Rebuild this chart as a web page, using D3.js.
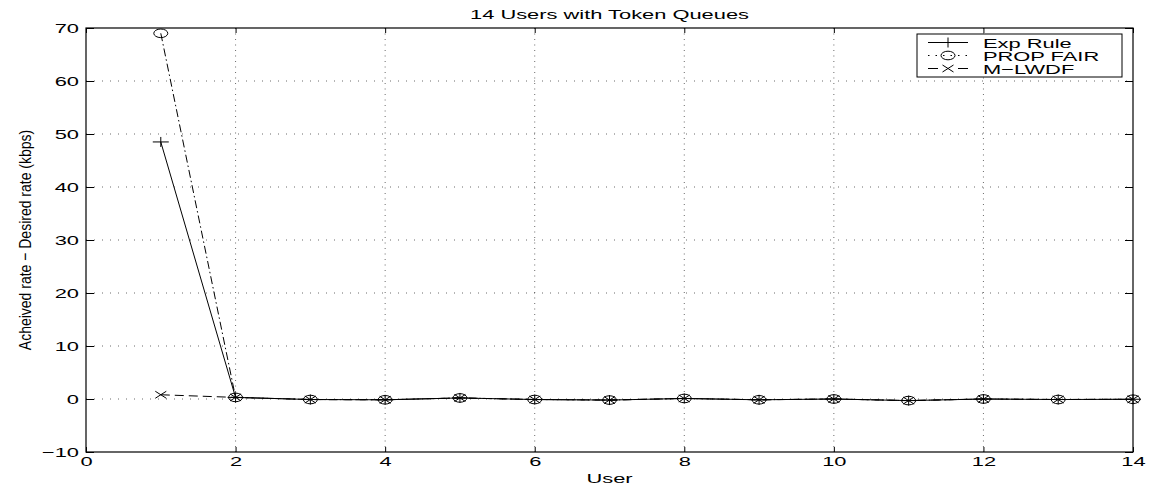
<!DOCTYPE html>
<html>
<head>
<meta charset="utf-8">
<script src="https://cdn.jsdelivr.net/npm/d3@7"></script>
<style>
  body { margin: 0; background: #fff; }
  text { font-family: "Liberation Sans", Arial, sans-serif; fill: #000; }
</style>
</head>
<body>
<div id="viz-wrapper"></div>
<script>
// data
let users = [1, 2, 3, 4, 5, 6, 7, 8, 9, 10, 11, 12, 13, 14];
let expRule  = [48.5, 0.3, -0.1, -0.15, 0.2, -0.1, -0.2, 0.1, -0.15, 0, -0.3, 0, -0.1, -0.05];
let propFair = [69.0, 0.3, -0.1, -0.15, 0.2, -0.1, -0.2, 0.1, -0.15, 0, -0.3, 0, -0.1, -0.05];
let mLwdf    = [0.8, 0.3, -0.1, -0.15, 0.2, -0.1, -0.2, 0.1, -0.15, 0, -0.3, 0, -0.1, -0.05];
let seriesNames = ['Exp Rule', 'PROP FAIR', 'M\u2212LWDF'];
let xTicks = [0, 2, 4, 6, 8, 10, 12, 14];
let yTicks = [-10, 0, 10, 20, 30, 40, 50, 60, 70];
let title = '14 Users with Token Queues';
let xLabel = 'User';
let yLabel = 'Acheived rate \u2212 Desired rate (kbps)';

let width = 1150,
    height = 487;
let margin = {left: 86, right: 17, top: 28, bottom: 35};
let plotW = width - margin.left - margin.right,
    plotH = height - margin.top - margin.bottom;

// the original figure is stretched sideways, text too
let stretch = 1.62;
let fontSize = 13.5;

let xScale = d3.scaleLinear().domain([0, 14]).range([0, plotW]);
let yScale = d3.scaleLinear().domain([-10, 70]).range([plotH, 0]);

let svg = d3.select('#viz-wrapper')
  .append('svg')
  .attr('width', width)
  .attr('height', height);

let viz = svg.append('g')
  .attr('transform', 'translate(' + margin.left + ',' + margin.top + ')');

// grid
viz.append('g').selectAll('line.vgrid')
  .data(xTicks.slice(1, -1))
  .enter().append('line')
  .attr('x1', d => xScale(d)).attr('x2', d => xScale(d))
  .attr('y1', 0).attr('y2', plotH)
  .style('stroke', '#444').style('stroke-width', 0.8)
  .style('stroke-dasharray', '1,4.5');

viz.append('g').selectAll('line.hgrid')
  .data(yTicks.slice(1, -1))
  .enter().append('line')
  .attr('x1', 0).attr('x2', plotW)
  .attr('y1', d => yScale(d)).attr('y2', d => yScale(d))
  .style('stroke', '#444').style('stroke-width', 0.8)
  .style('stroke-dasharray', '1,7');

// axes
let xAxis = d3.axisBottom(xScale).tickValues(xTicks).tickSizeInner(-5).tickSizeOuter(0).tickPadding(4);
let yAxis = d3.axisLeft(yScale).tickValues(yTicks).tickSizeInner(-8).tickSizeOuter(0).tickPadding(6);
let xAxisTop = d3.axisTop(xScale).tickValues(xTicks).tickSizeInner(-5).tickSizeOuter(0).tickFormat('');
let yAxisRight = d3.axisRight(yScale).tickValues(yTicks).tickSizeInner(-8).tickSizeOuter(0).tickFormat('');

let gx = viz.append('g').attr('transform', 'translate(0,' + plotH + ')').call(xAxis);
let gy = viz.append('g').call(yAxis);
viz.append('g').call(xAxisTop);
viz.append('g').attr('transform', 'translate(' + plotW + ',0)').call(yAxisRight);

viz.selectAll('.domain').remove();
viz.selectAll('.tick line').style('stroke', '#000');

gx.selectAll('text')
  .style('font-size', fontSize + 'px')
  .style('font-family', '"Liberation Sans", Arial, sans-serif')
  .attr('transform', 'scale(' + stretch + ',1)');
gy.selectAll('text')
  .style('font-size', fontSize + 'px')
  .style('font-family', '"Liberation Sans", Arial, sans-serif')
  .attr('x', -7 / stretch)
  .attr('transform', 'scale(' + stretch + ',1)');

// box
viz.append('rect')
  .attr('width', plotW).attr('height', plotH)
  .style('fill', 'none').style('stroke', '#000').style('stroke-width', 1.2);

// series
let styles = [
  {values: expRule,  dash: null,        marker: 'plus'},
  {values: propFair, dash: '8,3,1.5,3', marker: 'circle'},
  {values: mLwdf,    dash: '9,5',       marker: 'cross'}
];

let line = d3.line()
  .x((d, i) => xScale(users[i]))
  .y(d => yScale(d));

styles.forEach(function(s) {
  viz.append('path')
    .datum(s.values)
    .attr('d', line)
    .style('fill', 'none')
    .style('stroke', '#000')
    .style('stroke-width', 1)
    .style('stroke-dasharray', s.dash);
});

function drawMarker(g, type, x, y) {
  if (type === 'plus') {
    g.append('path')
      .attr('d', 'M' + (x - 8) + ',' + y + 'H' + (x + 8) + 'M' + x + ',' + (y - 5) + 'V' + (y + 5))
      .style('stroke', '#000').style('stroke-width', 1).style('fill', 'none');
  } else if (type === 'circle') {
    g.append('ellipse')
      .attr('cx', x).attr('cy', y).attr('rx', 7).attr('ry', 4.3)
      .style('stroke', '#000').style('stroke-width', 1).style('fill', 'none');
  } else {
    g.append('path')
      .attr('d', 'M' + (x - 5.5) + ',' + (y - 3.5) + 'L' + (x + 5.5) + ',' + (y + 3.5) +
                 'M' + (x - 5.5) + ',' + (y + 3.5) + 'L' + (x + 5.5) + ',' + (y - 3.5))
      .style('stroke', '#000').style('stroke-width', 1).style('fill', 'none');
  }
}

styles.forEach(function(s) {
  let g = viz.append('g');
  s.values.forEach(function(v, i) {
    drawMarker(g, s.marker, xScale(users[i]), yScale(v));
  });
});

// legend
let legend = svg.append('g').attr('transform', 'translate(917,34)');
legend.append('rect')
  .attr('width', 205).attr('height', 43)
  .style('fill', '#fff').style('stroke', '#000').style('stroke-width', 1);

styles.forEach(function(s, i) {
  let y = 8.5 + i * 13;
  legend.append('line')
    .attr('x1', 11).attr('x2', 51).attr('y1', y).attr('y2', y)
    .style('stroke', '#000').style('stroke-width', 1)
    .style('stroke-dasharray', s.dash === '8,3,1.5,3' ? '1.5,6' : s.dash === '9,5' ? '10,20' : null);
  drawMarker(legend, s.marker, 31, y);
  legend.append('text')
    .attr('transform', 'translate(66,' + (y + 5) + ') scale(' + stretch + ',1)')
    .style('font-size', fontSize + 'px')
    .text(seriesNames[i]);
});

// titles
svg.append('text')
  .attr('transform', 'translate(' + (margin.left + plotW / 2) + ',19) scale(' + stretch + ',1)')
  .attr('text-anchor', 'middle')
  .style('font-size', fontSize + 'px')
  .text(title);

svg.append('text')
  .attr('transform', 'translate(' + (margin.left + plotW / 2) + ',483) scale(' + stretch + ',1)')
  .attr('text-anchor', 'middle')
  .style('font-size', fontSize + 'px')
  .text(xLabel);

svg.append('text')
  .attr('transform', 'translate(31,' + (margin.top + plotH / 2) + ') rotate(-90) scale(1,' + stretch * 0.75 + ')')
  .attr('text-anchor', 'middle')
  .style('font-size', '14px')
  .text(yLabel);
</script>
</body>
</html>
